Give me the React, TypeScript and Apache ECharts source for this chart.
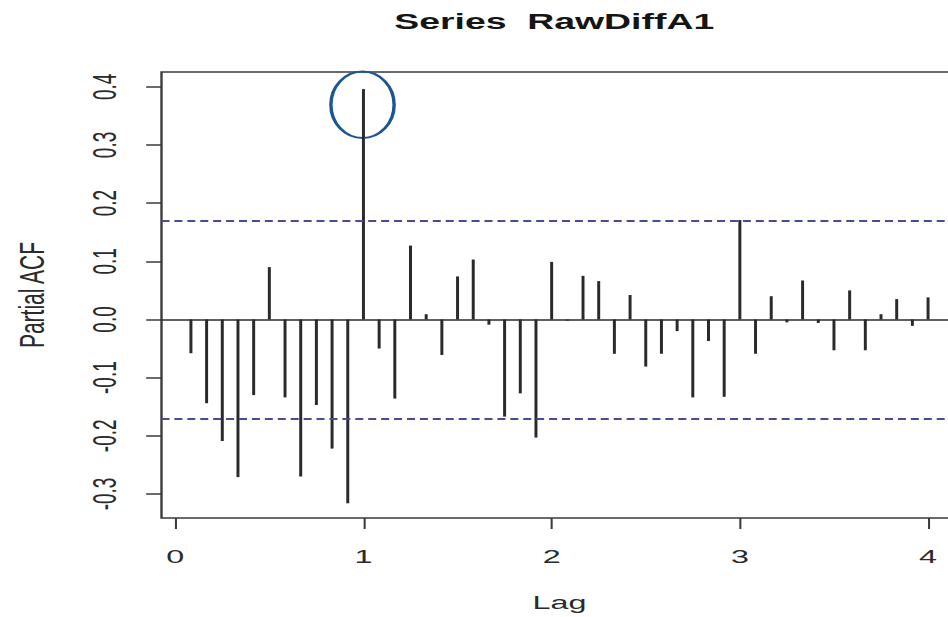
import React, { useEffect, useRef } from "react";
import * as echarts from "echarts";

// ---- data ----
const TITLE = "Series  RawDiffA1";
const X_NAME = "Lag";
const Y_NAME = "Partial ACF";
const FREQUENCY = 12; // lags are given in months, plotted in years
const lagMonths = [
  1, 2, 3, 4, 5, 6, 7, 8, 9, 10, 11, 12,
  13, 14, 15, 16, 17, 18, 19, 20, 21, 22, 23, 24,
  25, 26, 27, 28, 29, 30, 31, 32, 33, 34, 35, 36,
  37, 38, 39, 40, 41, 42, 43, 44, 45, 46, 47, 48,
];
const pacfValues = [
  -0.058, -0.144, -0.209, -0.271, -0.13, 0.09, -0.134, -0.27, -0.147, -0.222, -0.316, 0.396,
  -0.05, -0.136, 0.127, 0.009, -0.061, 0.074, 0.103, -0.009, -0.167, -0.127, -0.203, 0.099,
  -0.002, 0.075, 0.066, -0.059, 0.042, -0.081, -0.059, -0.02, -0.134, -0.037, -0.133, 0.171,
  -0.059, 0.04, -0.005, 0.067, -0.006, -0.053, 0.05, -0.053, 0.009, 0.035, -0.011, 0.038,
];
const confidenceLimit = 0.1714;
const xTickValues = [0, 1, 2, 3, 4];
const yTickValues = [-0.3, -0.2, -0.1, 0, 0.1, 0.2, 0.3, 0.4];
const highlightPoint = [0.995, 0.369]; // centre of the hand-drawn circle (data coords)

// the reference image is stretched horizontally
const STRETCH = 1.7;

export default function App() {
  const ref = useRef<HTMLDivElement>(null);

  useEffect(() => {
    const el = ref.current;
    if (!el) return;
    const chart = echarts.init(el, null, { renderer: "svg" });
    const font = "'Liberation Sans', Arial, Helvetica, sans-serif";
    const ink = "#2a2a2a";
    const data = lagMonths.map((m, i) => [m / FREQUENCY, pacfValues[i]]);
    const dashed = { color: "#4a4a96", width: 1.8, type: [4.7, 2.9] as number[] };

    chart.setOption({
      animation: false,
      backgroundColor: "#ffffff",
      title: {
        text: TITLE,
        left: 321,
        top: 5,
        textAlign: "center",
        textStyle: { fontFamily: font, fontSize: 22, fontWeight: "bold", color: "#151515" },
      },
      grid: {
        left: 93,
        top: 72,
        right: 6.7,
        bottom: 97.5,
        show: true,
        borderColor: "#3a3a3a",
        borderWidth: 1.4,
        backgroundColor: "transparent",
      },
      xAxis: {
        type: "value",
        min: -0.073,
        max: 4.157,
        name: X_NAME,
        nameLocation: "middle",
        nameGap: 75,
        nameTextStyle: { fontFamily: font, fontSize: 19, color: ink },
        axisLine: { show: false, onZero: false },
        splitLine: { show: false },
        axisTick: {
          show: true,
          length: 11,
          customValues: xTickValues,
          lineStyle: { color: "#3a3a3a", width: 1.2 },
        },
        axisLabel: {
          customValues: xTickValues,
          margin: 29,
          fontFamily: font,
          fontSize: 19,
          color: ink,
          formatter: (v: number) => String(v),
        },
      },
      yAxis: {
        type: "value",
        min: -0.3413,
        max: 0.4254,
        name: Y_NAME,
        nameLocation: "middle",
        nameGap: 66,
        nameTextStyle: { fontFamily: font, fontSize: 21, color: ink },
        axisLine: { show: false, onZero: false },
        splitLine: { show: false },
        axisTick: {
          show: true,
          length: 9,
          customValues: yTickValues,
          lineStyle: { color: "#3a3a3a", width: 1.5 },
        },
        axisLabel: {
          customValues: yTickValues,
          rotate: 90,
          margin: 24,
          fontFamily: font,
          fontSize: 19,
          color: ink,
          formatter: (v: number) => v.toFixed(1),
        },
      },
      series: [
        {
          type: "bar",
          data,
          barWidth: 1.75,
          itemStyle: { color: "#2a2a2a" },
          markLine: {
            silent: true,
            symbol: ["none", "none"],
            label: { show: false },
            data: [
              { yAxis: 0, lineStyle: { color: "#2a2a2a", width: 1.6, type: "solid" } },
              { yAxis: confidenceLimit, lineStyle: dashed },
              { yAxis: -confidenceLimit, lineStyle: dashed },
            ],
          },
        },
      ],
    });

    const c = chart.convertToPixel({ gridIndex: 0 }, highlightPoint) as number[];
    chart.setOption({
      graphic: [
        {
          type: "ellipse",
          silent: true,
          shape: { cx: c[0], cy: c[1], rx: 18.6, ry: 33.3 },
          style: { fill: "none", stroke: "#1b5594", lineWidth: 2 },
        },
      ],
    });

    return () => chart.dispose();
  }, []);

  return (
    <div
      style={{
        position: "absolute",
        left: 0,
        top: 0,
        width: 948,
        height: 617,
        overflow: "hidden",
        background: "#ffffff",
      }}
    >
      <div
        ref={ref}
        style={{
          width: 570,
          height: 617,
          transform: `scaleX(${STRETCH})`,
          transformOrigin: "0 0",
        }}
      />
    </div>
  );
}
